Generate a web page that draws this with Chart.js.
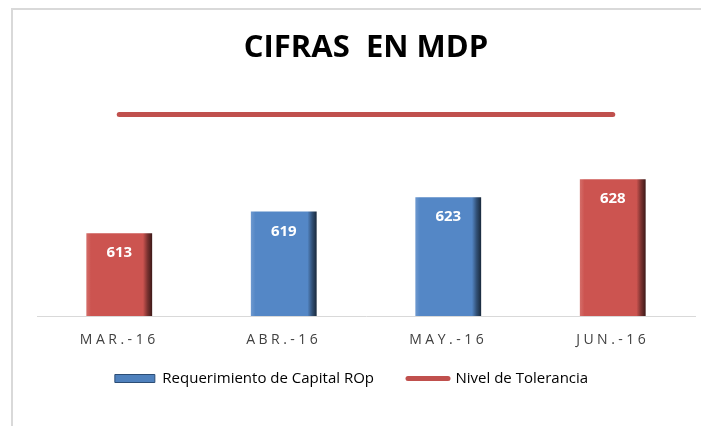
<!DOCTYPE html>
<html>
<head>
<meta charset="utf-8">
<script src="https://cdn.jsdelivr.net/npm/chart.js@4.4.1/dist/chart.umd.min.js"></script>
<style>
  html, body { margin: 0; padding: 0; background: #fff; }
  #wrap { position: relative; width: 701px; height: 426px; overflow: hidden; }
  #marco { position: absolute; left: 11px; top: 8px; width: 720px; height: 440px;
           border-left: 2px solid #d9d9d9; border-top: 2px solid #d9d9d9; }
  #grafico { position: absolute; left: 0; top: 0; }
</style>
</head>
<body>
<div id="wrap">
  <div id="marco"></div>
  <canvas id="grafico" width="701" height="426"></canvas>
</div>
<script>
// Datos del gráfico
const meses = ['MAR.-16', 'ABR.-16', 'MAY.-16', 'JUN.-16'];
const requerimiento = [613, 619, 623, 628];
const tolerancia = [646, 646, 646, 646];
const coloresBarra = ['#cc5450', '#5487c6', '#5487c6', '#cc5450'];

// Oscurece / aclara un color hex
function ajustar(hex, f) {
    const n = parseInt(hex.slice(1), 16);
    let r = (n >> 16) & 255, g = (n >> 8) & 255, b = n & 255;
    if (f < 0) { r *= 1 + f; g *= 1 + f; b *= 1 + f; }
    else { r += (255 - r) * f; g += (255 - g) * f; b += (255 - b) * f; }
    return `rgb(${Math.round(r)}, ${Math.round(g)}, ${Math.round(b)})`;
}

// Degradado horizontal para simular el bisel de Excel
function relleno(c) {
    const base = coloresBarra[c.dataIndex];
    const chart = c.chart;
    const x = chart.scales.x;
    if (!x || !chart.chartArea) return base;
    const centro = x.getPixelForValue(c.dataIndex);
    const ancho = x.width / meses.length * 0.4;
    if (!isFinite(centro)) return base;
    const g = chart.ctx.createLinearGradient(centro - ancho / 2, 0, centro + ancho / 2, 0);
    g.addColorStop(0, ajustar(base, 0.15));
    g.addColorStop(0.07, base);
    g.addColorStop(0.86, base);
    g.addColorStop(0.93, ajustar(base, -0.4));
    g.addColorStop(1, ajustar(base, -0.7));
    return g;
}

// Etiquetas blancas dentro de cada barra
const etiquetas = {
    id: 'etiquetas',
    afterDatasetsDraw(chart) {
        const ctx = chart.ctx;
        const meta = chart.getDatasetMeta(0);
        ctx.save();
        ctx.fillStyle = '#ffffff';
        ctx.font = 'bold 15px "Open Sans"';
        ctx.textAlign = 'center';
        ctx.textBaseline = 'middle';
        meta.data.forEach((bar, i) => {
            ctx.fillText(String(requerimiento[i]), bar.x, bar.y + 20);
        });
        ctx.restore();
    }
};

// Espaciado de letras en las etiquetas del eje x (y sin recorte)
const espaciado = {
    id: 'espaciado',
    afterLayout(chart) {
        const esc = chart.scales.x;
        if (esc._parcheado) return;
        const orig = esc.drawLabels;
        esc._computeLabelArea = function() { return undefined; };
        esc.drawLabels = function(area) {
            chart.ctx.save();
            chart.ctx.letterSpacing = '3.5px';
            orig.call(this, area);
            chart.ctx.restore();
        };
        esc._parcheado = true;
    }
};

function dibujar() {
    const ctx = document.getElementById('grafico').getContext('2d');
    new Chart(ctx, {
        data: {
            labels: meses,
            datasets: [{
                type: 'bar',
                label: 'Requerimiento de Capital ROp',
                data: requerimiento,
                backgroundColor: relleno,
                barPercentage: 0.4,
                categoryPercentage: 1,
                order: 2
            }, {
                type: 'line',
                label: 'Nivel de Tolerancia',
                data: tolerancia,
                borderColor: '#c0504d',
                borderWidth: 5,
                borderCapStyle: 'round',
                pointRadius: 0,
                order: 1
            }]
        },
        options: {
            responsive: false,
            animation: false,
            layout: { padding: { left: 8, right: 6, top: 0, bottom: 30 } },
            scales: {
                x: {
                    grid: { display: false, drawTicks: false },
                    border: { color: '#d9d9d9', width: 1 },
                    ticks: { color: '#404040', font: { size: 14, family: 'Open Sans', lineHeight: '2px' }, padding: 23 },
                    // el eje ocupa menos alto para acercar la leyenda
                    afterFit(escala) { escala.height = 21; }
                },
                y: {
                    min: 590, max: 660,
                    grid: { display: false },
                    border: { display: false },
                    ticks: { display: false },
                    afterFit(escala) { escala.width = 29; }
                }
            },
            plugins: {
                title: {
                    display: true,
                    fullSize: false,
                    text: 'CIFRAS  EN MDP',
                    color: '#000000',
                    font: { size: 31, weight: 'bold', family: 'Open Sans', lineHeight: 1 },
                    padding: { top: 33, bottom: 0 }
                },
                legend: {
                    position: 'bottom',
                    labels: {
                        color: '#262626',
                        font: { size: 15, family: 'Open Sans' },
                        usePointStyle: true,
                        pointStyleWidth: 40,
                        boxHeight: 8,
                        padding: 34,
                        generateLabels() {
                            return [{
                                text: 'Requerimiento de Capital ROp',
                                fillStyle: '#4f81bd', strokeStyle: '#2c4d75', lineWidth: 1,
                                pointStyle: 'rect', datasetIndex: 0
                            }, {
                                text: 'Nivel de Tolerancia',
                                fillStyle: '#c0504d', strokeStyle: '#c0504d', lineWidth: 5,
                                lineCap: 'round', pointStyle: 'line', datasetIndex: 1
                            }];
                        }
                    }
                },
                tooltip: { enabled: false }
            }
        },
        plugins: [etiquetas, espaciado]
    });
}

// Espera a que la fuente esté lista para medir bien los textos
Promise.all([
    document.fonts.load('15px "Open Sans"'),
    document.fonts.load('bold 31px "Open Sans"')
]).then(dibujar, dibujar);
</script>
</body>
</html>
